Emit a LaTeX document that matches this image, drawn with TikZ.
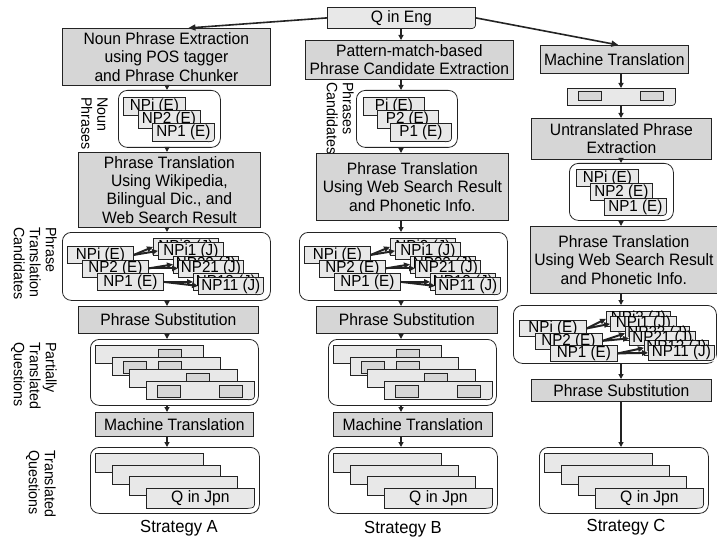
\documentclass[tikz,border=0pt]{standalone}
\usepackage{fontspec}
\setmainfont{Liberation Sans}[FakeStretch=0.95]
\usepackage{tikz}
\usetikzlibrary{arrows.meta,positioning,calc}
\definecolor{ink}{RGB}{35,35,35}
\definecolor{boxg}{RGB}{214,214,214}
\definecolor{cardg}{RGB}{232,232,232}
\newcommand{\bxfont}{\fontsize{16.5}{18.3}\selectfont}
\newcommand{\cdfont}{\fontsize{16}{16}\selectfont}
\newcommand{\sdfont}{\fontsize{15}{16}\selectfont}
\newcommand{\stfont}{\fontsize{17.5}{18}\selectfont}
\tikzset{
  proc/.style={draw=ink,fill=boxg,line width=0.8pt,inner sep=0pt,align=center,font=\bxfont,anchor=north west},
  grp/.style={draw=ink,line width=0.8pt,rounded corners=9pt,inner sep=0pt,anchor=north west},
  card/.style={draw=ink,fill=cardg,line width=0.8pt,inner sep=0pt,font=\cdfont,anchor=north west},
  nub/.style={draw=ink,fill=boxg,line width=0.8pt,inner sep=0pt,minimum width=23pt,minimum height=12pt,anchor=north west},
  side/.style={rotate=-90,anchor=north west,align=left,inner sep=0pt,font=\sdfont},
  wh/.style 2 args={minimum width=#1pt,minimum height=#2pt},
  flow/.style={-{Triangle[length=5pt,width=5pt]},line width=1.2pt,draw=ink},
  pick/.style={-{Triangle[length=6pt,width=5.5pt]},line width=2pt,draw=ink},
  reach/.style={-{Triangle[length=7pt,width=6pt]},line width=1.6pt,draw=ink},
}
\newcommand{\curl}[1]{%
  \fill[white] ([xshift=-7pt]#1.south east) .. controls ([xshift=-1pt,yshift=0.5pt]#1.south east) .. ([yshift=5pt]#1.south east)
    -- ([xshift=1pt,yshift=5pt]#1.south east) -- ([xshift=1pt,yshift=-1pt]#1.south east) -- ([xshift=-7pt,yshift=-1pt]#1.south east) -- cycle;
  \draw[ink,line width=0.7pt] ([xshift=-7pt]#1.south east) .. controls ([xshift=-1pt,yshift=0.5pt]#1.south east) .. ([yshift=5pt]#1.south east);}

\begin{document}
\begin{tikzpicture}[x=1pt,y=-1pt]
\useasboundingbox (0,0) rectangle (717,540);
\coordinate (xA) at (167,0);
\coordinate (xB) at (401,0);
\coordinate (xC) at (621,0);

\node[card,wh={148}{21},font=\bxfont] (q) at (327,7) {Q in Eng};
\curl{q}

% strategy A
\node[proc,wh={208}{57}] (npext) at (62,28) {Noun Phrase Extraction\\using POS tagger\\and Phrase Chunker};
\node[grp,wh={102}{57}] (npbox) at (118,90) {};
\foreach \t [count=\k from 0] in {NPi,NP2,NP1}
  \node[card,wh={62}{18}] (npA\k) at (123+14.5*\k,97+13*\k) {\t{} (E)};
\curl{npA2}
\node[side] (lnp) at (108,97) {Noun\\Phrases};
\node[proc,wh={182}{75}] (ptA) at (78,152) {Phrase Translation\\Using Wikipedia,\\Bilingual Dic., and\\Web Search Result};
\node[side] (lcA) at (57,227) {Phrase\\Translation\\Candidates};
\node[proc,wh={180}{27}] (psA) at (78,306) {Phrase Substitution};
\node[side] (lpA) at (57,342) {Partially\\Translated\\Questions};
\node[proc,wh={158}{24}] (mtA) at (95,412) {Machine Translation};
\node[side] (ltA) at (56,450) {Translated\\Questions};

% strategy B
\node[proc,wh={208}{39}] (pm) at (305,40) {Pattern-match-based\\Phrase Candidate Extraction};
\node[grp,wh={101}{57}] (pcbox) at (356,90) {};
\foreach \t [count=\k from 0] in {Pi,P2,P1}
  \node[card,wh={61}{18}] (pc\k) at (363+13.5*\k,97+13*\k) {\t{} (E)};
\curl{pc2}
\node[side] (lpc) at (354,82) {Phrases\\Candidates};
\node[proc,wh={192}{67}] (ptB) at (316,153) {Phrase Translation\\Using Web Search Result\\and Phonetic Info.};
\node[proc,wh={181}{27}] (psB) at (316,306) {Phrase Substitution};
\node[proc,wh={159}{24}] (mtB) at (333,412) {Machine Translation};

\foreach \bx/\c in {62/A,299/B}{
  \node[grp,wh={208}{68}] (cand\c) at (\bx,232) {};
  \foreach \e [count=\k from 0] in {NPi,NP2,NP1}
    \node[card,wh={66}{17}] (e\c\k) at (\bx+5+15*\k,246+13.5*\k) {\e{} (E)};
  \foreach \jb/\jf [count=\k from 0] in {NPi2/NPi1,NP22/NP21,NP12/NP11}{
    \node[card,wh={65}{17}] (jb\c\k) at (\bx+91+20*\k,238+17.5*\k) {\jb{} (J)};
    \node[card,wh={65}{17}] (jf\c\k) at (\bx+96+20*\k,242+17.5*\k) {\jf{} (J)};
  }
  \curl{jf\c2}
  \foreach \k in {0,1,2}{
    \draw[pick] (e\c\k.east) -- (jb\c\k.west);
    \draw[pick] (e\c\k.east) -- (jf\c\k.west);
  }
}

\foreach \cx/\c in {95/A,333/B}{
  \node[grp,wh={168}{66}] (pq\c) at (\cx-5,339) {};
  \foreach \nl [count=\k from 0] in {{63},{11,46},{57},{11,73}}{
    \node[card,wh={108}{18}] (pq\c\k) at (\cx+17*\k,345+12*\k) {};
    \foreach \n in \nl
      \node[nub] (nb\c\k\n) at (\cx+17*\k+\n,349+12*\k) {};
  }
  \curl{pq\c3}
}

% strategy C
\node[proc,wh={148}{28}] (mtC) at (540,45) {Machine Translation};
\node[card,wh={108}{17}] (mq) at (567,88) {};
\node[nub,minimum height=9pt] (mq0) at (578,91) {};
\node[nub,minimum height=9pt] (mq1) at (640,91) {};
\curl{mq}
\node[proc,wh={180}{41}] (upe) at (531,118) {Untranslated Phrase\\Extraction};
\node[grp,wh={104}{57}] (npC) at (569,163) {};
\foreach \t [count=\k from 0] in {NPi,NP2,NP1}
  \node[card,wh={62}{17}] (nc\k) at (576+14*\k,169+14.5*\k) {\t{} (E)};
\curl{nc2}
\node[proc,wh={187}{67}] (ptC) at (530,226) {Phrase Translation\\Using Web Search Result\\and Phonetic Info.};
\node[grp,wh={203}{58}] (candC) at (513,305) {};
\foreach \e [count=\k from 0] in {NPi,NP2,NP1}
  \node[card,wh={67}{16}] (eC\k) at (519+15.5*\k,320+12.5*\k) {\e{} (E)};
\foreach \jb/\jf [count=\k from 0] in {NPi2/NPi1,NP22/NP21,NP12/NP11}{
  \node[card,wh={64}{14}] (jbC\k) at (606+19*\k,311+14.5*\k) {\jb{} (J)};
  \node[card,wh={66}{14}] (jfC\k) at (610+19*\k,316+14.5*\k) {\jf{} (J)};
}
\curl{jfC2}
\foreach \k in {0,1,2}{
  \draw[pick] (eC\k.east) -- (jbC\k.west);
  \draw[pick] (eC\k.east) -- (jfC\k.west);
}
\node[proc,wh={180}{22}] (psC) at (531,379) {Phrase Substitution};

\foreach \cx/\c in {95/A,333/B,544/C}{
  \node[grp,wh={169}{66}] (tq\c) at (\cx-5,447) {};
  \foreach \k in {0,1,2}
    \node[card,wh={108}{19}] (tq\c\k) at (\cx+17*\k,453+11.5*\k) {};
  \node[card,wh={108}{20},font=\bxfont] (tq\c3) at (\cx+51,487.5) {Q in Jpn};
  \curl{tq\c3}
}

\node[font=\stfont,inner sep=0pt] (sA) at (179,528) {Strategy A};
\node[font=\stfont,inner sep=0pt] (sB) at (403,529) {Strategy B};
\node[font=\stfont,inner sep=0pt] (sC) at (626,527) {Strategy C};

\draw[reach] (q.west) -- ($(npext.north)+(22,0)$);
\draw[reach] (q.east) -- ($(mtC.north)+(4,0)$);
\foreach \a/\b in {npext/npbox,npbox/ptA,ptA/candA,candA/psA,psA/pqA,pqA/mtA,mtA/tqA}
  \draw[flow] (\a.south -| xA) -- (\b.north -| xA);
\foreach \a/\b in {q/pm,pm/pcbox,pcbox/ptB,ptB/candB,candB/psB,psB/pqB,pqB/mtB,mtB/tqB}
  \draw[flow] (\a.south -| xB) -- (\b.north -| xB);
\foreach \a/\b in {mtC/mq,mq/upe,upe/npC,npC/ptC,ptC/candC,candC/psC,psC/tqC}
  \draw[flow] (\a.south -| xC) -- (\b.north -| xC);
\end{tikzpicture}
\end{document}
